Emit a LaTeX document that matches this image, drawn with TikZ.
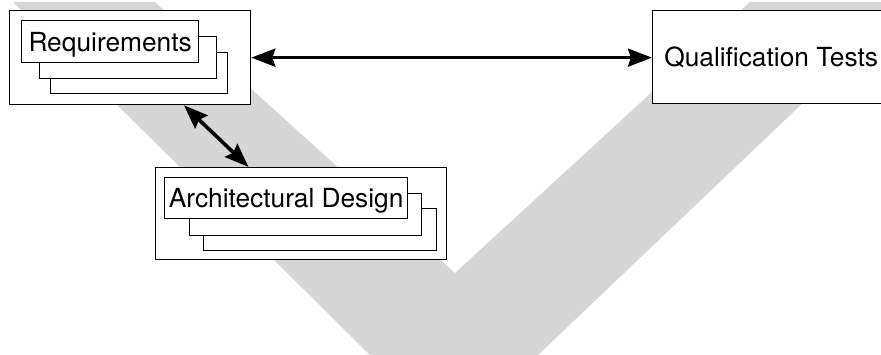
\documentclass[tikz,border=0pt]{standalone}
\usepackage{fontspec}
\setmainfont{TeX Gyre Heros}
\usetikzlibrary{arrows.meta,calc}
\definecolor{vshade}{RGB}{214,214,214}
\begin{document}
\begin{tikzpicture}[x=1pt,y=-1pt,
  boxframe/.style={draw=black,line width=1.3pt,fill=white,rectangle,inner sep=0pt,anchor=north west},
  tagbox/.style={boxframe,font=\fontsize{26.3}{31}\selectfont,text height=18.9pt,text depth=0pt},
  link/.style={line width=3.6pt,{Stealth[length=24pt,width=18pt,inset=3pt]}-{Stealth[length=24pt,width=18pt,inset=3pt]}}
]
% canvas
\useasboundingbox[fill=white] (0,0) rectangle (881,355);

% the grey V in the background
\fill[vshade] (13,2) -- (155,2) -- (455,273) -- (750,2) -- (909,2) -- (538,355) -- (370,355) -- cycle;

% requirements: outer frame and stacked documents
\node[boxframe,minimum width=241pt,minimum height=94pt] (req) at (9,10) {};
\node[boxframe,minimum width=177pt,minimum height=41pt] (reqC) at (50,52) {};
\node[boxframe,minimum width=177pt,minimum height=42pt] (reqB) at (39,36) {};
\node[tagbox,minimum width=177pt,minimum height=42pt] (reqA) at (21,20) {Requirements};

% qualification tests
\node[tagbox,minimum width=237pt,minimum height=93pt] (qual) at (652,10) {Qualification Tests};

% architectural design: outer frame and stacked documents
\node[boxframe,minimum width=291pt,minimum height=92pt] (arch) at (155,167) {};
\node[boxframe,minimum width=233pt,minimum height=42pt] (archC) at (203,208) {};
\node[boxframe,minimum width=232pt,minimum height=42pt] (archB) at (189,193) {};
\node[tagbox,minimum width=243pt,minimum height=41pt] (archA) at (164,177) {Architectural Design};

% connectors
\draw[link] (req.east) -- (req.east -| qual.west);
\draw[link] ($(req.south west)!0.722!(req.south east)$) -- ($(arch.north west)!0.32!(arch.north east)$);
\end{tikzpicture}
\end{document}
